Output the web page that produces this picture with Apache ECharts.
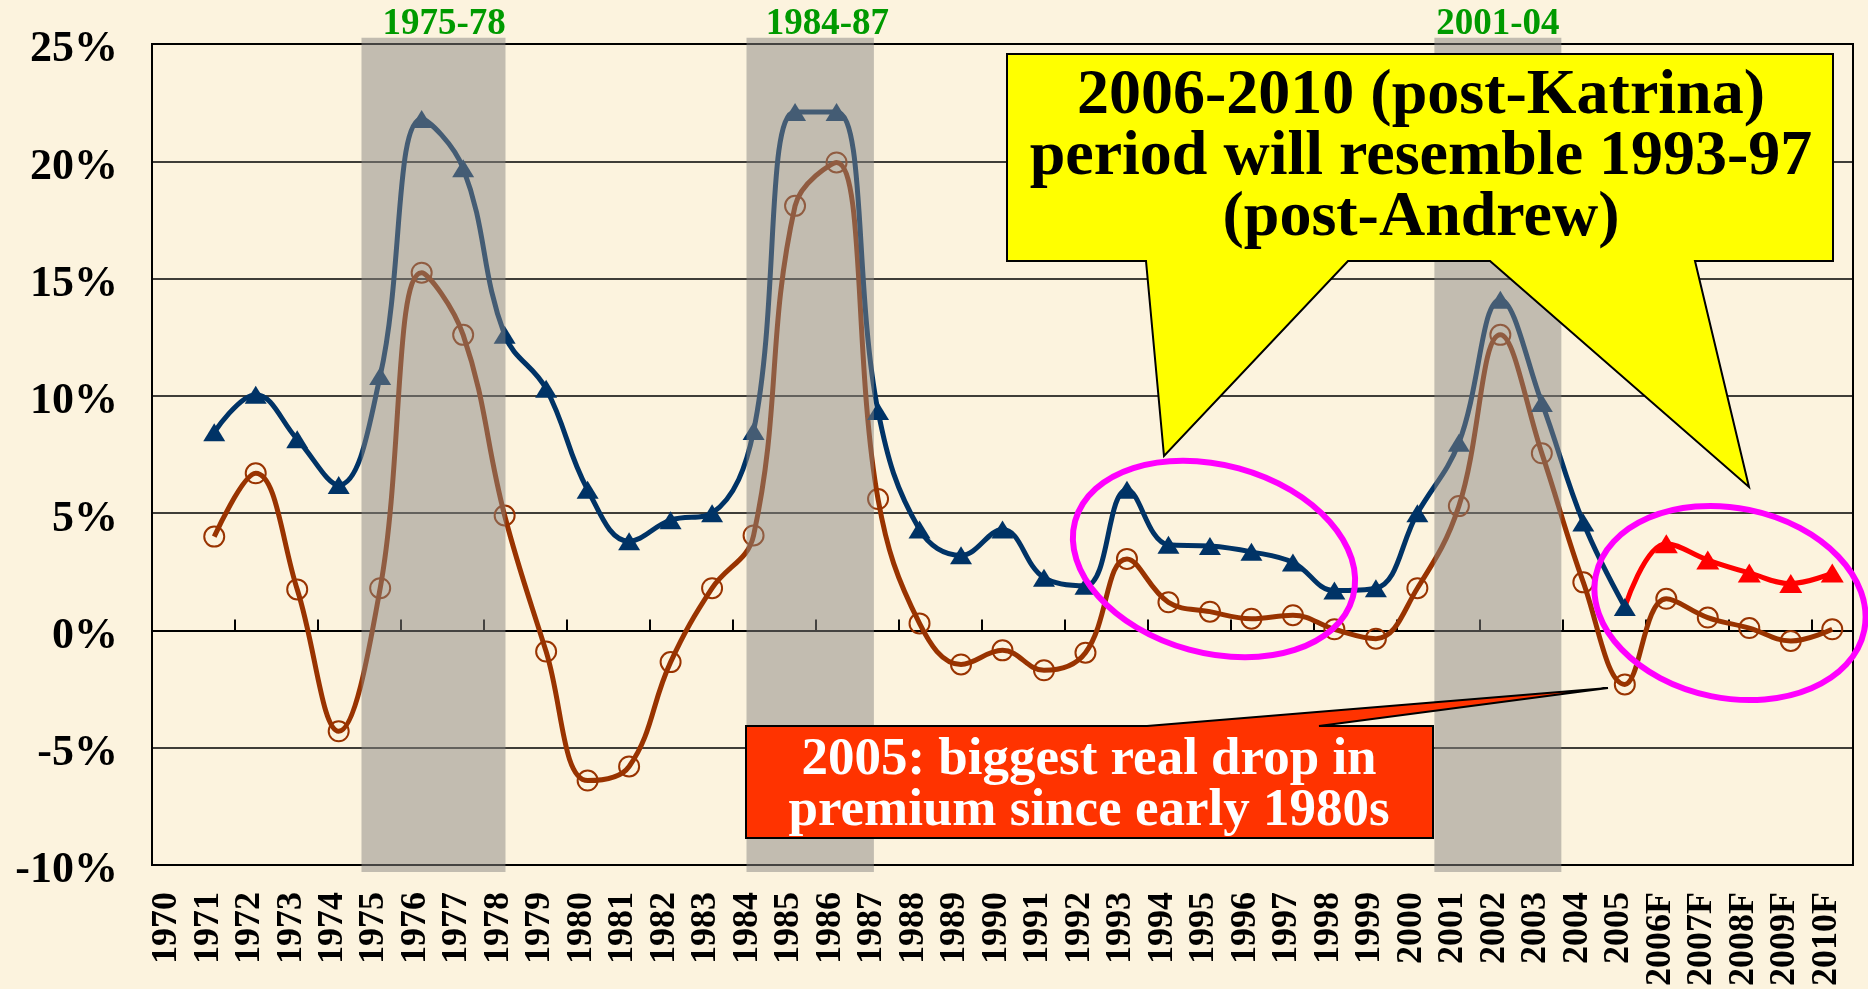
<!DOCTYPE html>
<html>
<head>
<meta charset="utf-8">
<title>Premium growth 1970-2010F</title>
<script src="https://cdn.jsdelivr.net/npm/echarts@6/dist/echarts.min.js"></script>
<style>
    html, body { margin: 0; padding: 0; background: #fcf3de; }
    #chart { width: 1868px; height: 989px; }
</style>
</head>
<body>
<div id="chart"></div>
<script>
// categories
const years = ['1970', '1971', '1972', '1973', '1974', '1975', '1976', '1977', '1978', '1979',
    '1980', '1981', '1982', '1983', '1984', '1985', '1986', '1987', '1988', '1989',
    '1990', '1991', '1992', '1993', '1994', '1995', '1996', '1997', '1998', '1999',
    '2000', '2001', '2002', '2003', '2004', '2005', '2006F', '2007F', '2008F', '2009F', '2010F']

// nominal premium growth (blue triangles), %
const nominal = [null, 8.45, 10.05, 8.15, 6.2, 10.85, 21.8, 19.7, 12.6, 10.3,
    6.0, 3.8, 4.7, 5.0, 8.5, 22.1, 22.1, 9.35, 4.3, 3.2,
    4.3, 2.25, 1.9, 6.0, 3.65, 3.6, 3.35, 2.9, 1.7, 1.8,
    5.0, 8.0, 14.1, 9.7, 4.6, 1.0, null, null, null, null, null]

// forecast (red triangles), starts from the 2005 actual
const forecast = [null, null, null, null, null, null, null, null, null, null,
    null, null, null, null, null, null, null, null, null, null,
    null, null, null, null, null, null, null, null, null, null,
    null, null, null, null, null, 1.0, 3.7, 3.0, 2.45, 2.0, 2.45]

// real premium growth (brown circles), %
const real = [null, 4.0, 6.7, 1.75, -4.3, 1.8, 15.25, 12.6, 4.9, -0.9,
    -6.4, -5.8, -1.35, 1.8, 4.05, 18.1, 19.95, 5.6, 0.3, -1.45,
    -0.85, -1.7, -0.95, 3.05, 1.2, 0.8, 0.5, 0.65, 0.05, -0.35,
    1.8, 5.3, 12.6, 7.55, 2.05, -2.3, 1.35, 0.55, 0.1, -0.45, 0.05]

// shaded periods, in category units (0 = left edge of 1970)
const bandFrom = [5.05, 14.33, 30.91]
const bandTo = [8.52, 17.40, 33.97]
const bandLabels = ['1975-78', '1984-87', '2001-04']
const bandLabelAt = [7.04, 16.28, 32.44]

const serif = '"Liberation Serif", "Times New Roman", serif'

let myChart = echarts.init(document.getElementById('chart'))

// first forecast point sits under the blue 2005 marker
let firstF = forecast.findIndex(v => v !== null)
let forecastData = forecast.map((v, i) => i === firstF ? { value: v, symbol: 'none' } : v)

let option = {
    animation: false,
    backgroundColor: '#fcf3de',
    grid: {
        left: 152,
        right: 15,
        top: 44,
        bottom: 121,
        show: true,
        borderColor: '#000',
        borderWidth: 2,
        backgroundColor: 'transparent'
    },
    xAxis: [
        {
            type: 'category',
            data: years,
            position: 'bottom',
            axisLine: { show: false, onZero: false },
            axisTick: { show: false },
            axisLabel: {
                interval: 0,
                rotate: 90,
                margin: 27,
                verticalAlign: 'bottom',
                lineHeight: 12,
                fontFamily: serif,
                fontWeight: 'bold',
                fontSize: 36,
                color: '#000'
            }
        },
        {
            // zero line with year ticks
            type: 'category',
            data: years,
            position: 'top',
            axisLine: { show: true, onZero: true, lineStyle: { color: '#000', width: 2 } },
            axisTick: { show: true, inside: false, length: 11, lineStyle: { color: '#000', width: 2 } },
            axisLabel: { show: false }
        },
        {
            // helper axis for the shaded periods
            type: 'value',
            min: 0,
            max: years.length,
            show: false
        }
    ],
    yAxis: {
        type: 'value',
        min: -10,
        max: 25,
        interval: 5,
        axisLine: { show: false },
        axisTick: { show: false },
        splitLine: { lineStyle: { color: '#000', width: 1.5 } },
        axisLabel: {
            formatter: '{value}%',
            margin: 34,
            verticalAlign: 'top',
            lineHeight: 12,
            fontFamily: serif,
            fontWeight: 'bold',
            fontSize: 44,
            color: '#000'
        }
    },
    series: [
        {
            name: 'real',
            type: 'line',
            data: real,
            smooth: 0.4,
            z: 2,
            symbol: 'circle',
            symbolSize: 20,
            lineStyle: { color: '#993300', width: 5 },
            itemStyle: { color: 'rgba(0,0,0,0)', borderColor: '#993300', borderWidth: 2 }
        },
        {
            name: 'forecast',
            type: 'line',
            data: forecastData,
            smooth: 0.4,
            z: 3,
            symbol: 'triangle',
            symbolSize: [23, 19],
            lineStyle: { color: '#ff0000', width: 5 },
            itemStyle: { color: '#ff0000' }
        },
        {
            name: 'nominal',
            type: 'line',
            data: nominal,
            smooth: 0.4,
            z: 4,
            symbol: 'triangle',
            symbolSize: [22, 18],
            lineStyle: { color: '#003366', width: 5 },
            itemStyle: { color: '#003366' }
        },
        {
            name: 'periods',
            type: 'custom',
            xAxisIndex: 2,
            yAxisIndex: 0,
            z: 6,
            clip: false,
            silent: true,
            data: bandFrom.map((v, i) => [v, bandTo[i], bandLabelAt[i]]),
            renderItem: function (params, api) {
                let p0 = api.coord([api.value(0), 25.27])
                let p1 = api.coord([api.value(1), -10.3])
                let lx = api.coord([api.value(2), 25])[0]
                return {
                    type: 'group',
                    children: [
                        {
                            type: 'rect',
                            shape: { x: p0[0], y: p0[1], width: p1[0] - p0[0], height: p1[1] - p0[1] },
                            style: { fill: 'rgba(135,133,130,0.5)' }
                        },
                        {
                            type: 'text',
                            x: lx,
                            y: 24,
                            style: {
                                text: bandLabels[params.dataIndex],
                                fill: '#009a00',
                                font: 'bold 37px ' + serif,
                                textAlign: 'center',
                                textVerticalAlign: 'middle'
                            }
                        }
                    ]
                }
            }
        }
    ],
    graphic: [
        {
            type: 'ellipse',
            z: 100,
            x: 1214,
            y: 559,
            rotation: -0.267,
            shape: { cx: 0, cy: 0, rx: 144, ry: 94 },
            style: { fill: 'none', stroke: '#ff00ff', lineWidth: 6 }
        },
        {
            type: 'ellipse',
            z: 100,
            x: 1730,
            y: 603,
            rotation: -0.202,
            shape: { cx: 0, cy: 0, rx: 137, ry: 95 },
            style: { fill: 'none', stroke: '#ff00ff', lineWidth: 6 }
        },
        {
            // yellow callout with two pointers
            type: 'polygon',
            z: 101,
            shape: {
                points: [[1007, 54], [1833, 54], [1833, 261], [1695, 261], [1749, 487], [1490, 261],
                    [1348, 261], [1164, 456], [1146, 261], [1007, 261]]
            },
            style: { fill: '#ffff00', stroke: '#000', lineWidth: 2 }
        },
        {
            type: 'text',
            z: 102,
            x: 1421,
            y: 157,
            style: {
                text: '2006-2010 (post-Katrina)\nperiod will resemble 1993-97\n(post-Andrew)',
                font: 'bold 64px ' + serif,
                lineHeight: 61,
                fill: '#000',
                textAlign: 'center',
                textVerticalAlign: 'middle'
            }
        },
        {
            // red callout pointing at 2005
            type: 'polygon',
            z: 101,
            shape: {
                points: [[746, 726], [1147, 726], [1608, 688], [1319, 726], [1433, 726], [1433, 838], [746, 838]]
            },
            style: { fill: '#ff3300', stroke: '#000', lineWidth: 2 }
        },
        {
            type: 'text',
            z: 102,
            x: 1089,
            y: 786,
            style: {
                text: '2005: biggest real drop in\npremium since early 1980s',
                font: 'bold 53px ' + serif,
                lineHeight: 51,
                fill: '#fff',
                textAlign: 'center',
                textVerticalAlign: 'middle'
            }
        }
    ]
}

myChart.setOption(option)
window.addEventListener('resize', function () {
    myChart.resize()
})
</script>
</body>
</html>
